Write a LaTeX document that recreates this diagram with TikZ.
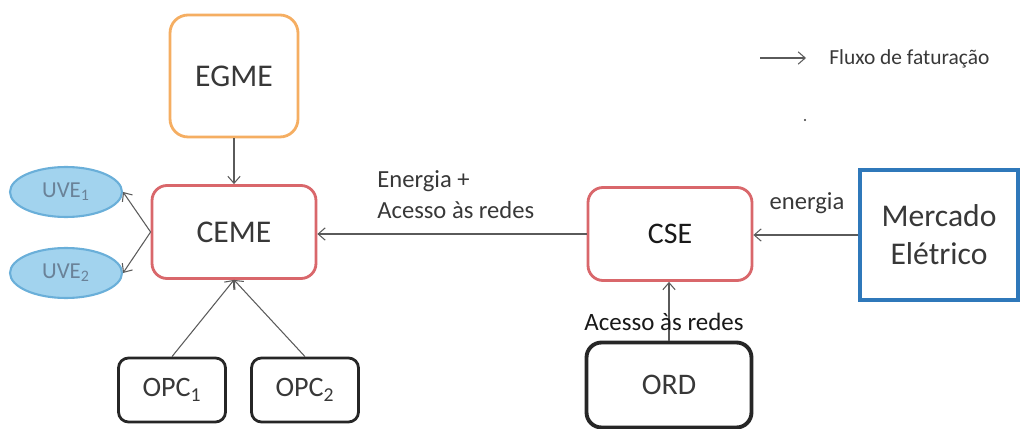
\documentclass[tikz,border=0pt]{standalone}
\usepackage{fontspec}
\setmainfont{Carlito}
\usetikzlibrary{arrows.meta,shapes.geometric}

\definecolor{txtgray}{HTML}{383838}
\definecolor{arrowgray}{HTML}{5A5A5A}
\definecolor{cemered}{HTML}{D9676B}
\definecolor{egmeorange}{HTML}{F5AE62}
\definecolor{mercblue}{HTML}{2F78BA}
\definecolor{uvefill}{HTML}{A2D3EE}
\definecolor{uveline}{HTML}{6AAFD9}
\definecolor{uvetext}{HTML}{6A8298}

\begin{document}
\begin{tikzpicture}[x=0.02cm,y=-0.02cm,
    flow/.style={draw=arrowgray,line width=0.6pt,-{Straight Barb[length=4pt,width=7pt]}},
    box/.style={draw,rounded corners=0.3cm,line width=1.6pt,inner sep=0pt,align=center,text=txtgray},
    agent/.style={box,draw=cemered,minimum width=3.28cm,minimum height=1.86cm},
    opcbox/.style={box,draw=black!85,rounded corners=0.2cm,minimum width=2.14cm,minimum height=1.28cm,font=\fontsize{16}{19}\selectfont},
    uve/.style={ellipse,draw=uveline,fill=uvefill,line width=1.2pt,inner sep=0pt,minimum width=2.24cm,minimum height=1cm,text=uvetext,font=\fontsize{13}{15}\selectfont},
    lbl/.style={text=txtgray,inner sep=0pt,font=\fontsize{14}{17.6}\selectfont}]

    \useasboundingbox (0,0) rectangle (1022,429);

    \node[box,draw=egmeorange,rounded corners=0.36cm,minimum width=2.56cm,minimum height=2.44cm,font=\fontsize{18}{22}\selectfont] (egme) at (234,76) {EGME};
    \node[agent,font=\fontsize{18}{22}\selectfont] (ceme) at (234,232) {CEME};
    \node[agent,text=black!90,font=\fontsize{17}{20}\selectfont] (cse) at (670,234) {CSE};
    \node[box,draw=mercblue,rounded corners=0pt,line width=1.8pt,minimum width=3.16cm,minimum height=2.6cm,font=\fontsize{18}{21.6}\selectfont] (merc) at (939,235) {Mercado\\Elétrico};
    \node[box,draw=black!85,line width=2.2pt,minimum width=3.3cm,minimum height=1.7cm,font=\fontsize{17}{20}\selectfont] (ord) at (669,385) {ORD};

    \node[uve] (uve1) at (66,192) {UVE\textsubscript{1}};
    \node[uve] (uve2) at (66,273) {UVE\textsubscript{2}};
    \node[opcbox] (opc1) at (172,390) {OPC\textsubscript{1}};
    \node[opcbox] (opc2) at (305,390) {OPC\textsubscript{2}};

    \draw[flow] (egme) -- (ceme);
    \draw[flow] (ceme.west) -- (uve1.east);
    \draw[flow] (ceme.west) -- (uve2.east);
    \draw[flow] (opc1.north) -- (ceme.south);
    \draw[flow] (opc2.north) -- (ceme.south);
    \draw[flow] (cse.west) -- (cse.west -| ceme.east);
    \draw[flow] (merc.west) -- (merc.west -| cse.east);
    \draw[flow] (ord.north) -- (ord.north |- cse.south);

    \node[lbl,anchor=north west,align=left] (enlbl) at (377,170) {Energia +\\Acesso às redes};
    \node[lbl] (enmerc) at (807,203) {energia};
    \node[lbl,text=black!90,font=\fontsize{14.2}{17}\selectfont] (acesso) at (664,322) {Acesso às redes};

    \coordinate (legA) at (760,58);
    \coordinate (legB) at (806,58);
    \draw[flow] (legA) -- (legB);
    \node[lbl,anchor=west,font=\fontsize{12.2}{14}\selectfont] (legtxt) at (829,59) {Fluxo de faturação};

    \fill[txtgray] (805,120) circle (0.7pt);

\end{tikzpicture}
\end{document}
